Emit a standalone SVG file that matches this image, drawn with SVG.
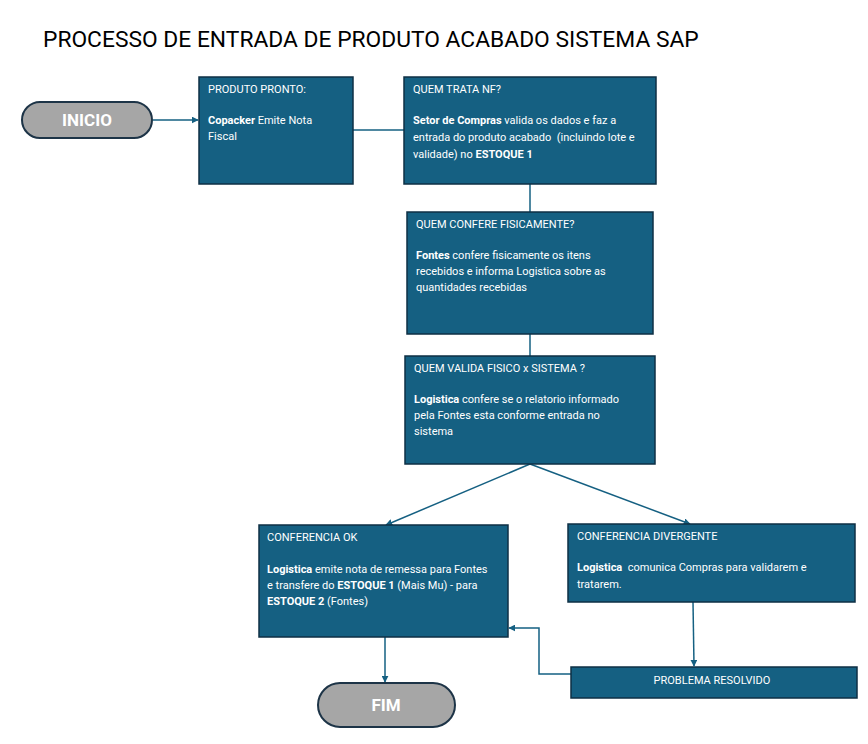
<svg xmlns="http://www.w3.org/2000/svg" width="868" height="744" viewBox="0 0 868 744">
<defs>
<marker id="ah" viewBox="0 0 10 10" refX="9" refY="5" markerWidth="7" markerHeight="7" orient="auto" markerUnits="userSpaceOnUse">
<path d="M0,0 L10,5 L0,10 z" fill="#156082"/>
</marker>
<style>
.box{fill:#156082;stroke:#0e2f44;stroke-width:1.5}
.pill{fill:#a6a6a6;stroke:#1d3447;stroke-width:2}
.t{font-family:Roboto,"Liberation Sans",sans-serif;font-size:11px;fill:#ffffff}
.b{font-weight:bold}
.pt{font-family:Roboto,"Liberation Sans",sans-serif;font-size:17px;font-weight:bold;fill:#ffffff;text-anchor:middle}
.title{font-family:Roboto,"Liberation Sans",sans-serif;font-size:22.8px;fill:#000000}
.c{fill:none;stroke:#156082;stroke-width:1.5}
</style>
</defs>
<rect width="868" height="744" fill="#ffffff"/>
<text class="title" x="43" y="47">PROCESSO DE ENTRADA DE PRODUTO ACABADO SISTEMA SAP</text>

<g id="connectors">
<line class="c" x1="153" y1="120" x2="198" y2="120" marker-end="url(#ah)"/>
<line class="c" x1="353" y1="130" x2="404" y2="130"/>
<line class="c" x1="530" y1="184" x2="530" y2="212"/>
<line class="c" x1="530" y1="334" x2="530" y2="356"/>
<line class="c" x1="530" y1="464" x2="386" y2="525" marker-end="url(#ah)"/>
<line class="c" x1="530" y1="464" x2="690" y2="524" marker-end="url(#ah)"/>
<line class="c" x1="693" y1="602" x2="694" y2="666" marker-end="url(#ah)"/>
<polyline class="c" points="571,674 539,674 539,628 509,628" marker-end="url(#ah)"/>
<line class="c" x1="385" y1="637" x2="385" y2="682" marker-end="url(#ah)"/>
</g>

<g id="inicio">
<rect class="pill" x="22" y="102" width="130" height="36" rx="18"/>
<text class="pt" x="87" y="126">INICIO</text>
</g>

<g id="produto-pronto">
<rect class="box" x="199" y="77" width="154" height="107"/>
<text class="t" x="208" y="93">PRODUTO PRONTO:</text>
<text class="t" x="208" y="124"><tspan class="b">Copacker</tspan> Emite Nota</text>
<text class="t" x="208" y="140">Fiscal</text>
</g>

<g id="quem-trata-nf">
<rect class="box" x="404" y="77" width="252" height="107"/>
<text class="t" x="413" y="93">QUEM TRATA NF?</text>
<text class="t" x="413" y="124"><tspan class="b">Setor de Compras</tspan> valida os dados e faz a</text>
<text class="t" x="413" y="141">entrada do produto acabado &#160;(incluindo lote e</text>
<text class="t" x="413" y="158">validade) no <tspan class="b">ESTOQUE 1</tspan></text>
</g>

<g id="quem-confere">
<rect class="box" x="407" y="212" width="246" height="122"/>
<text class="t" x="416" y="228">QUEM CONFERE FISICAMENTE?</text>
<text class="t" x="416" y="259"><tspan class="b">Fontes</tspan> confere fisicamente os itens</text>
<text class="t" x="416" y="275">recebidos e informa Logistica sobre as</text>
<text class="t" x="416" y="291">quantidades recebidas</text>
</g>

<g id="quem-valida">
<rect class="box" x="405" y="356" width="250" height="108"/>
<text class="t" x="414" y="372">QUEM VALIDA FISICO x SISTEMA ?</text>
<text class="t" x="414" y="403"><tspan class="b">Logistica</tspan> confere se o relatorio informado</text>
<text class="t" x="414" y="419">pela Fontes esta conforme entrada no</text>
<text class="t" x="414" y="435">sistema</text>
</g>

<g id="conferencia-ok">
<rect class="box" x="259" y="525" width="249" height="112"/>
<text class="t" x="267" y="541">CONFERENCIA OK</text>
<text class="t" x="267" y="573"><tspan class="b">Logistica</tspan> emite nota de remessa para Fontes</text>
<text class="t" x="267" y="589">e transfere do <tspan class="b">ESTOQUE 1</tspan> (Mais Mu) - para</text>
<text class="t" x="267" y="605"><tspan class="b">ESTOQUE 2</tspan> (Fontes)</text>
</g>

<g id="conferencia-divergente">
<rect class="box" x="568" y="524" width="287" height="78"/>
<text class="t" x="577" y="540">CONFERENCIA DIVERGENTE</text>
<text class="t" x="577" y="571"><tspan class="b">Logistica</tspan> &#160;comunica Compras para validarem e</text>
<text class="t" x="577" y="588">tratarem.</text>
</g>

<g id="problema-resolvido">
<rect class="box" x="571" y="667" width="286" height="31"/>
<text class="t" x="712" y="684" text-anchor="middle">PROBLEMA RESOLVIDO</text>
</g>

<g id="fim">
<rect class="pill" x="318" y="683" width="137" height="44" rx="22"/>
<text class="pt" x="386" y="711">FIM</text>
</g>
</svg>
